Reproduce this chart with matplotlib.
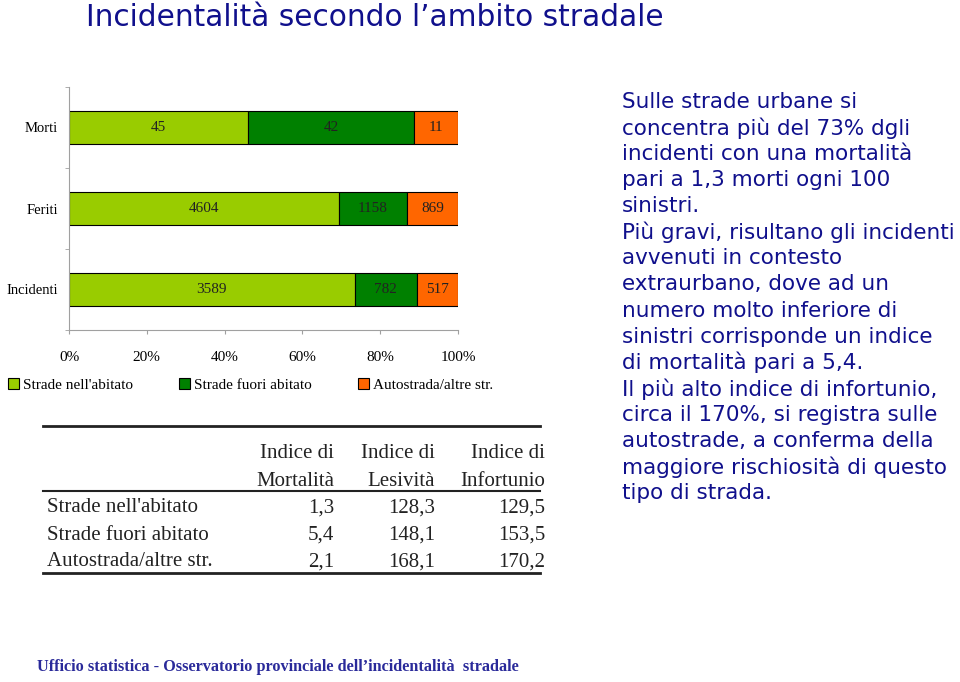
import matplotlib
matplotlib.use("Agg")
import matplotlib.pyplot as plt
from matplotlib.lines import Line2D
from matplotlib.patches import Patch

# data
categories = ["Morti", "Feriti", "Incidenti"]
series_names = ["Strade nell'abitato", "Strade fuori abitato", "Autostrada/altre str."]
urbane = [45, 4604, 3589]
extra = [42, 1158, 782]
autostrade = [11, 869, 517]
colors = ["#99CC00", "#008000", "#FF6600"]

table_cols = [["Indice di", "Mortalità"], ["Indice di", "Lesività"], ["Indice di", "Infortunio"]]
table_rows = ["Strade nell'abitato", "Strade fuori abitato", "Autostrada/altre str."]
mortalita = ["1,3", "5,4", "2,1"]
lesivita = ["128,3", "148,1", "168,1"]
infortunio = ["129,5", "153,5", "170,2"]

side_text = [
    "Sulle strade urbane si",
    "concentra più del 73% dgli",
    "incidenti con una mortalità",
    "pari a 1,3 morti ogni 100",
    "sinistri.",
    "Più gravi, risultano gli incidenti",
    "avvenuti in contesto",
    "extraurbano, dove ad un",
    "numero molto inferiore di",
    "sinistri corrisponde un indice",
    "di mortalità pari a 5,4.",
    "Il più alto indice di infortunio,",
    "circa il 170%, si registra sulle",
    "autostrade, a conferma della",
    "maggiore rischiosità di questo",
    "tipo di strada.",
]

W, H = 960, 682
fig = plt.figure(figsize=(9.6, 6.82), dpi=100)
fig.patch.set_facecolor("white")

def fx(x):
    return x / W

def fy(y):
    return 1 - y / H

navy = "#10108C"
serif = "Liberation Serif"

fig.text(fx(86), fy(17), "Incidentalità secondo l\u2019ambito stradale", fontsize=21.3,
         color=navy, family="DejaVu Sans", va="center", ha="left")

# bar chart
ax = fig.add_axes([fx(69), fy(330), fx(389), 243 / H])
ypos = list(range(len(categories)))
series = [urbane, extra, autostrade]
totals = [sum(v) for v in zip(*series)]
left = [0.0] * len(categories)
for name, vals, col in zip(series_names, series, colors):
    frac = [v / t for v, t in zip(vals, totals)]
    bars = ax.barh(ypos, frac, left=left, height=0.4, color=col, edgecolor="black",
                   linewidth=0.8, label=name)
    for b, v in zip(bars, vals):
        ax.text(b.get_x() + b.get_width() / 2, b.get_y() + b.get_height() / 2, str(v),
                ha="center", va="center", fontsize=11, family=serif, color="#222222")
    left = [l + f for l, f in zip(left, frac)]

ax.set_xlim(0, 1)
ax.set_ylim(len(categories) - 0.5, -0.5)
ax.set_xticks([0, 0.2, 0.4, 0.6, 0.8, 1.0])
ax.set_xticklabels(["0%", "20%", "40%", "60%", "80%", "100%"], family=serif, fontsize=11)
ax.set_yticks(ypos)
ax.set_yticklabels(categories, family=serif, fontsize=10.5)
ax.set_yticks([-0.5, 0.5, 1.5, 2.5], minor=True)
ax.tick_params(axis="y", which="major", length=0, pad=8)
ax.tick_params(axis="y", which="minor", length=3, color="#A0A0A0")
ax.tick_params(axis="x", length=3, color="#A0A0A0", pad=12)
for s in ["top", "right"]:
    ax.spines[s].set_visible(False)
for s in ["left", "bottom"]:
    ax.spines[s].set_color("#A0A0A0")

handles = [Patch(facecolor=c, edgecolor="black", linewidth=0.8) for c in colors]
leg_labels = ["Strade nell'abitato", "Strade fuori abitato", "Autostrada/altre str."]
fig.legend(handles, leg_labels, loc="center left", bbox_to_anchor=(fx(0), fy(385)), ncol=3,
           frameon=False, prop={"family": serif, "size": 11}, handlelength=0.75,
           handleheight=0.75, handletextpad=0.25, columnspacing=3.0, borderpad=0)

# table
line_kw = dict(color="#222222", transform=fig.transFigure)
fig.add_artist(Line2D([fx(43), fx(540)], [fy(426), fy(426)], linewidth=2, **line_kw))
fig.add_artist(Line2D([fx(43), fx(540)], [fy(491), fy(491)], linewidth=1.5, **line_kw))
fig.add_artist(Line2D([fx(43), fx(540)], [fy(573), fy(573)], linewidth=2, **line_kw))
col_right = [334, 435, 545]
tkw = dict(family=serif, fontsize=15, color="#222222", va="center")
for xr, (h1, h2) in zip(col_right, table_cols):
    fig.text(fx(xr), fy(454), h1, ha="right", **tkw)
    fig.text(fx(xr), fy(481), h2, ha="right", **tkw)
row_y = [508, 535, 562]
for yy, name, a, b, c in zip(row_y, table_rows, mortalita, lesivita, infortunio):
    fig.text(fx(47), fy(yy), name, ha="left", **tkw)
    for xr, v in zip(col_right, [a, b, c]):
        fig.text(fx(xr), fy(yy), v, ha="right", **tkw)

# side text
for i, line in enumerate(side_text):
    fig.text(fx(622), fy(102 + i * 26.07), line, fontsize=15.5, family="DejaVu Sans",
             color=navy, ha="left", va="center")

# footer
fig.text(fx(37), fy(667), "Ufficio statistica - Osservatorio provinciale dell\u2019incidentalità  stradale",
         family=serif, fontweight="bold", fontsize=11.7, color="#2A2A9A", ha="left", va="center")

fig.savefig("out.png", dpi=100, facecolor="white")
